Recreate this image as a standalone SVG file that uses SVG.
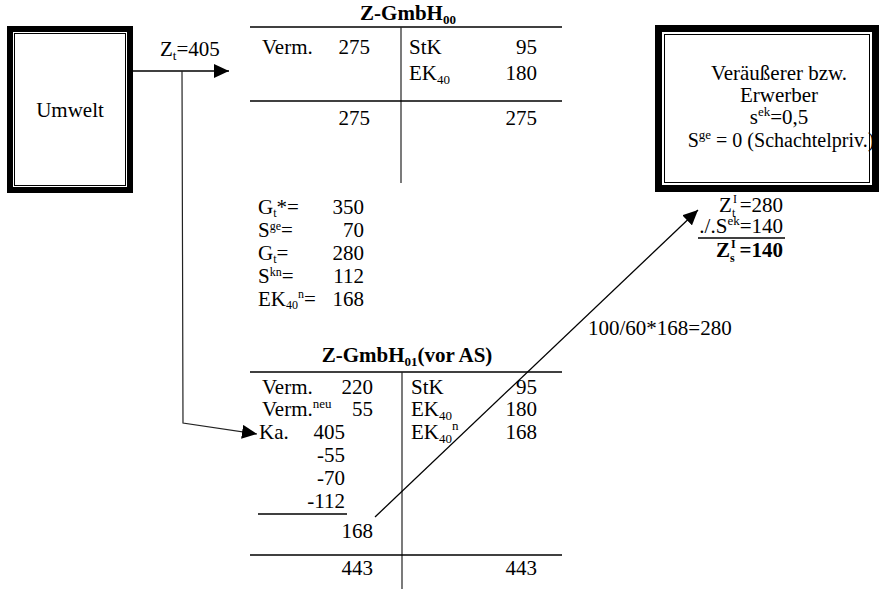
<svg xmlns="http://www.w3.org/2000/svg" width="879" height="589" viewBox="0 0 879 589" font-family="'Liberation Serif', 'DejaVu Serif', serif">
<defs>
<style>
text{font-family:'Liberation Serif','DejaVu Serif',serif;font-size:21px;fill:#000}
.b{font-weight:bold}
.s{font-size:13px}
.ss{font-size:12px}
.bx{font-size:20px}
.e{text-anchor:end}
.m{text-anchor:middle}
.ln{stroke:#000;stroke-width:1.3;fill:none}
.g{stroke:#222;stroke-width:1.2;fill:none}
</style>
<marker id="ah" markerUnits="userSpaceOnUse" markerWidth="16" markerHeight="14" refX="15" refY="7" orient="auto">
<path d="M0,0 L15,7 L0,14 Z" fill="#000"/>
</marker>
</defs>
<rect width="879" height="589" fill="#fff"/>

<g id="umwelt">
<rect x="10" y="29" width="120" height="161" fill="#fff" stroke="#000" stroke-width="6"/>
<rect x="14.5" y="33.5" width="111" height="152" fill="none" stroke="#000" stroke-width="1"/>
<text x="70" y="117" class="m">Umwelt</text>
</g>

<g id="veraeusserer">
<rect x="658.5" y="28.5" width="217" height="160" fill="#fff" stroke="#000" stroke-width="7"/>
<rect x="664.5" y="34.5" width="205" height="148" fill="none" stroke="#000" stroke-width="1"/>
<text x="779" y="80" class="m">Veräußerer bzw.</text>
<text x="779" y="102" class="m">Erwerber</text>
<text x="779" y="124" class="m">s<tspan class="s" dy="-8">ek</tspan><tspan dy="8">=0,5</tspan></text>
<text x="781" y="147" class="m bx">S<tspan class="s" dy="-8">ge</tspan><tspan dy="8"> = 0 (Schachtelpriv.)</tspan></text>
</g>

<g id="ergebnis">
<text x="719" y="212">Z</text>
<text x="733" y="203" class="ss">I</text>
<text x="732" y="217" class="ss">t</text>
<text x="783" y="212" class="e">=280</text>
<text x="783" y="233" class="e">./.S<tspan class="s" dy="-8">ek</tspan><tspan dy="8">=140</tspan></text>
<line x1="698" y1="238" x2="785" y2="238" class="ln"/>
<text x="716" y="257" class="b">Z</text>
<text x="731" y="248" class="ss b">I</text>
<text x="730" y="262" class="ss b">s</text>
<text x="783" y="257" class="e b">=140</text>
</g>

<g id="zgmbh00">
<text x="408" y="20" class="m b">Z-GmbH<tspan class="s" dy="4">00</tspan></text>
<line x1="250" y1="27" x2="562" y2="27" class="ln"/>
<line x1="401" y1="27" x2="401" y2="183" class="g"/>
<line x1="250" y1="101" x2="562" y2="101" class="ln"/>
<text x="262" y="54">Verm.</text>
<text x="370" y="54" class="e">275</text>
<text x="409" y="54">StK</text>
<text x="537" y="54" class="e">95</text>
<text x="409" y="80">EK<tspan class="s" dy="4">40</tspan></text>
<text x="537" y="80" class="e">180</text>
<text x="370" y="125" class="e">275</text>
<text x="537" y="125" class="e">275</text>
</g>

<g id="nebenrechnung">
<text x="258" y="214">G<tspan class="ss" dy="3">t</tspan><tspan dy="-3">*=</tspan></text>
<text x="364" y="214" class="e">350</text>
<text x="258" y="237">S<tspan class="ss" dy="-7">ge</tspan><tspan dy="7">=</tspan></text>
<text x="364" y="237" class="e">70</text>
<text x="258" y="260">G<tspan class="ss" dy="3">t</tspan><tspan dy="-3">=</tspan></text>
<text x="364" y="260" class="e">280</text>
<text x="258" y="283">S<tspan class="ss" dy="-7">kn</tspan><tspan dy="7">=</tspan></text>
<text x="364" y="283" class="e">112</text>
<text x="258" y="306">EK<tspan class="ss" dy="3">40</tspan><tspan class="ss" dy="-11">n</tspan><tspan dy="8">=</tspan></text>
<text x="364" y="306" class="e">168</text>
<text x="588" y="335">100/60*168=280</text>
</g>

<g id="zgmbh01">
<text x="407" y="362" class="m b">Z-GmbH<tspan class="s" dy="4">01</tspan><tspan dy="-4">(vor AS)</tspan></text>
<line x1="250" y1="372" x2="562" y2="372" class="ln"/>
<line x1="402" y1="372" x2="402" y2="589" class="g"/>
<text x="262" y="394">Verm.</text>
<text x="373" y="394" class="e">220</text>
<text x="262" y="416">Verm.<tspan class="s" dy="-8">neu</tspan></text>
<text x="373" y="416" class="e">55</text>
<text x="259" y="439">Ka.</text>
<text x="345" y="439" class="e">405</text>
<text x="345" y="462" class="e">-55</text>
<text x="345" y="485" class="e">-70</text>
<text x="345" y="508" class="e">-112</text>
<line x1="258" y1="514" x2="347" y2="514" class="ln"/>
<text x="373" y="538" class="e">168</text>
<line x1="250" y1="555" x2="562" y2="555" class="ln"/>
<text x="373" y="575" class="e">443</text>
<text x="411" y="394">StK</text>
<text x="537" y="394" class="e">95</text>
<text x="411" y="416">EK<tspan class="s" dy="4">40</tspan></text>
<text x="537" y="416" class="e">180</text>
<text x="411" y="439">EK<tspan class="s" dy="4">40</tspan><tspan class="s" dy="-13">n</tspan></text>
<text x="537" y="439" class="e">168</text>
<text x="537" y="575" class="e">443</text>
</g>

<g id="connectors">
<line x1="133" y1="71" x2="229" y2="71" class="ln" marker-end="url(#ah)"/>
<text x="160" y="56">Z<tspan class="s" dy="4">t</tspan><tspan dy="-4">=405</tspan></text>
<polyline points="182,71 183,423 257,434" class="g" marker-end="url(#ah)"/>
<line x1="375" y1="517" x2="698" y2="210" class="ln" marker-end="url(#ah)"/>
</g>
</svg>
